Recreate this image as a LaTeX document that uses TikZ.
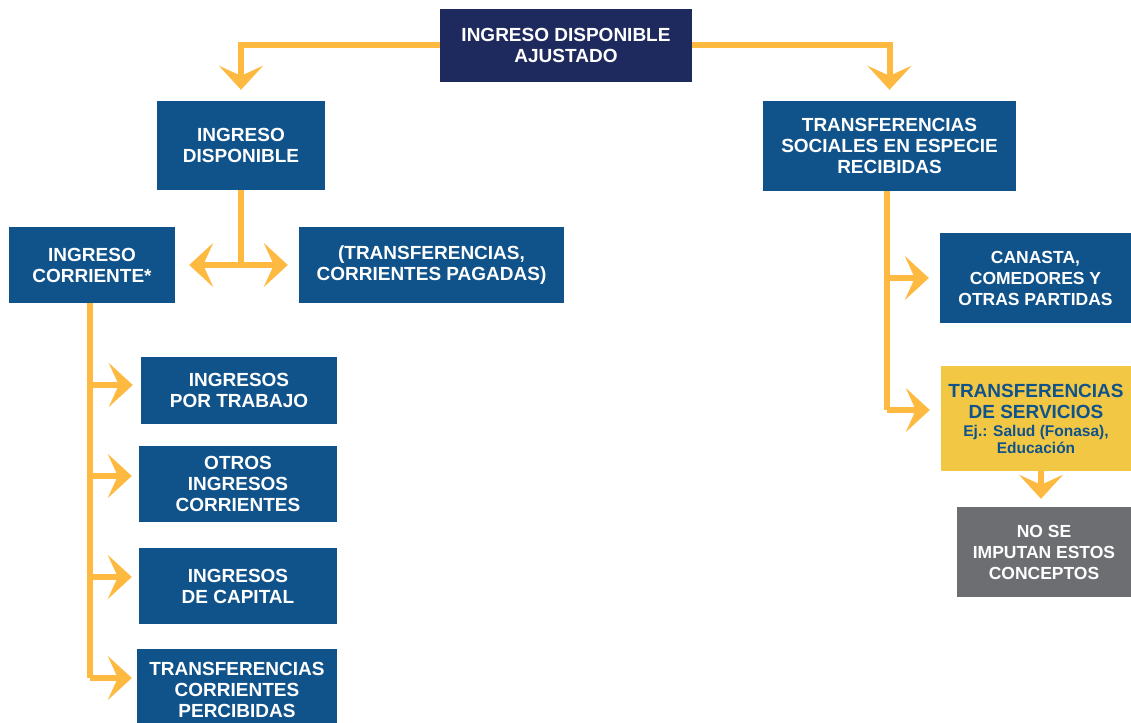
\documentclass[tikz,border=0pt]{standalone}
\usepackage{fontspec}
\setmainfont{Liberation Sans}
\usetikzlibrary{arrows.meta, positioning, calc}
\definecolor{navy}{HTML}{1E2A5E}
\definecolor{azul}{HTML}{10528A}
\definecolor{amarillo}{HTML}{F2C744}
\definecolor{gris}{HTML}{6D6E71}
\definecolor{naranja}{HTML}{FDB940}
\tikzset{
  caja/.style={rectangle, inner sep=0pt, align=center, text=white,
    font=\bfseries\fontsize{19}{21}\selectfont},
  cajaosc/.style={caja, fill=navy},
  cajaazul/.style={caja, fill=azul},
  cajachica/.style={caja, fill=azul, font=\bfseries\fontsize{17.5}{21}\selectfont},
  cajaamar/.style={caja, fill=amarillo, text=azul},
  cajagris/.style={caja, fill=gris, font=\bfseries\fontsize{17.5}{21}\selectfont},
  linea/.style={draw=naranja, line width=6pt},
  flecha/.style={linea, -{Stealth[length=24pt, width=44pt, inset=10pt]},
    shorten >=11pt}
}
\newcommand{\notachica}{\fontsize{15.5}{16}\selectfont}

\begin{document}
\begin{tikzpicture}[x=1pt, y=-1pt]
  \useasboundingbox (0,0) rectangle (1131,722);
  % cajas
  \node[cajaosc, minimum width=252pt, minimum height=73pt] (ajust) at (566,45.5)
    {INGRESO DISPONIBLE\\AJUSTADO};
  \node[cajaazul, minimum width=168pt, minimum height=89pt] (disp) at (241,145.5)
    {INGRESO\\DISPONIBLE};
  \node[cajaazul, minimum width=253pt, minimum height=90pt] (espec) at (889.5,146)
    {TRANSFERENCIAS\\SOCIALES EN ESPECIE\\RECIBIDAS};
  \node[cajaazul, minimum width=166pt, minimum height=76pt] (corr) at (92,265)
    {INGRESO\\CORRIENTE*};
  \node[cajaazul, minimum width=265pt, minimum height=76pt] (pag) at (431.5,265)
    {(TRANSFERENCIAS,\\CORRIENTES PAGADAS)};
  \node[cajaazul, minimum width=196pt, minimum height=67pt] (trab) at (239,390.5)
    {INGRESOS\\POR TRABAJO};
  \node[cajaazul, minimum width=198pt, minimum height=76pt] (otros) at (238,484)
    {OTROS\\INGRESOS\\CORRIENTES};
  \node[cajaazul, minimum width=198pt, minimum height=76pt] (capit) at (238,586)
    {INGRESOS\\DE CAPITAL};
  \node[cajaazul, minimum width=200pt, minimum height=82pt] (percib) at (237,690)
    {TRANSFERENCIAS\\CORRIENTES\\PERCIBIDAS};
  \node[cajachica, minimum width=191pt, minimum height=90pt] (canasta) at (1035.5,278)
    {CANASTA,\\COMEDORES Y\\OTRAS PARTIDAS};
  \node[cajaamar, minimum width=190pt, minimum height=105pt] (servic) at (1036,418.5)
    {TRANSFERENCIAS\\DE SERVICIOS\\[-3pt]{\notachica Ej.: Salud (Fonasa),}\\[-4pt]{\notachica Educación}};
  \node[cajagris, minimum width=174pt, minimum height=90pt] (noimp) at (1044,552)
    {NO SE\\IMPUTAN ESTOS\\CONCEPTOS};
  % flechas superiores
  \draw[flecha] (ajust.west) -| (disp.north);
  \draw[flecha] (ajust.east) -| (espec.north);
  % ingreso disponible
  \coordinate (split) at (disp.south |- corr.east);
  \draw[linea] (disp.south) -- (split);
  \draw[flecha, shorten >=14pt] (split) -- (corr.east);
  \draw[flecha] (split) -- (pag.west);
  % ingreso corriente
  \coordinate (b1) at (90,385);
  \coordinate (b2) at (90,476);
  \coordinate (b3) at (90,577);
  \coordinate (b4) at (90,678);
  \draw[linea] (corr.south -| b1) -- (b4);
  \draw[flecha, shorten >=8pt] (b1) -- (b1 -| trab.west);
  \draw[flecha, shorten >=7pt] (b2) -- (b2 -| otros.west);
  \draw[flecha, shorten >=7pt] (b3) -- (b3 -| capit.west);
  \draw[flecha, shorten >=5pt] (b4) -- (b4 -| percib.west);
  % transferencias en especie
  \coordinate (e1) at (887,278);
  \coordinate (e2) at (887,410);
  \draw[linea] (espec.south -| e1) -- (e2);
  \draw[flecha] (e1) -- (canasta.west);
  \draw[flecha] (e2) -- (e2 -| servic.west);
  \draw[flecha, shorten >=8pt] (servic.south -| 1041,0) -- (noimp.north -| 1041,0);
\end{tikzpicture}
\end{document}
